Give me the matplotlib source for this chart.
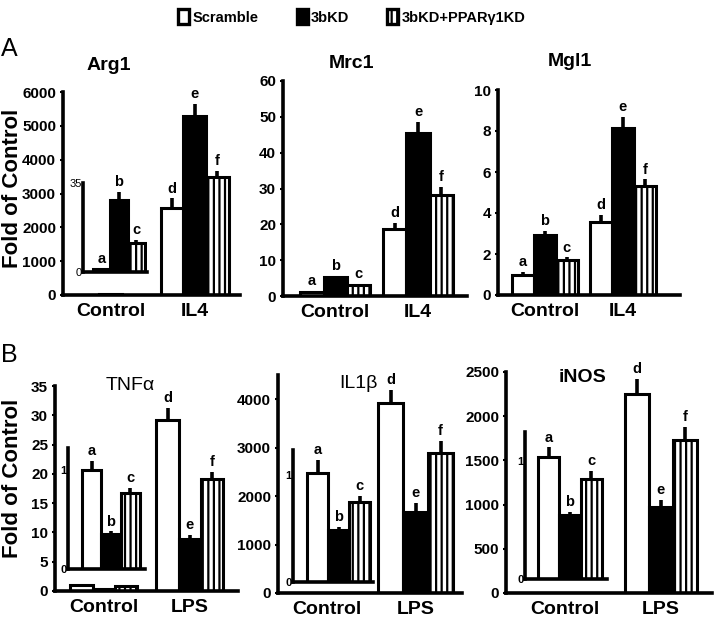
import matplotlib
matplotlib.use("Agg")
import matplotlib.pyplot as plt
from matplotlib.patches import Patch
from matplotlib import font_manager

# fonts: narrow bold like the figure, if present
names = {f.name for f in font_manager.fontManager.ttflist}
NARROW = 'Liberation Sans Narrow' if 'Liberation Sans Narrow' in names else 'Liberation Sans'
plt.rcParams['font.family'] = [NARROW, 'DejaVu Sans']
plt.rcParams['hatch.linewidth'] = 1.6

# data
groups_a = ['Control', 'IL4']
groups_b = ['Control', 'LPS']
series = ['Scramble', '3bKD', '3bKD+PPARγ1KD']
ctrl_letters = ['a', 'b', 'c']
treat_letters = ['d', 'e', 'f']

arg1_ctrl = [1.0, 28.5, 11.5]
arg1_ctrl_err = [0.4, 3.0, 1.2]
arg1_il4 = [2580, 5290, 3490]
arg1_il4_err = [275, 350, 180]

mrc1_ctrl = [1.2, 5.3, 3.0]
mrc1_ctrl_err = [0.3, 0.4, 0.3]
mrc1_il4 = [18.7, 45.6, 28.2]
mrc1_il4_err = [1.8, 2.9, 2.3]

mgl1_ctrl = [1.0, 2.92, 1.72]
mgl1_ctrl_err = [0.12, 0.2, 0.12]
mgl1_il4 = [3.56, 8.16, 5.3]
mgl1_il4_err = [0.34, 0.54, 0.34]

tnfa_ctrl = [1.0, 0.35, 0.77]
tnfa_ctrl_err = [0.09, 0.03, 0.05]
tnfa_lps = [29.2, 8.9, 19.2]
tnfa_lps_err = [2.0, 0.7, 1.2]

il1b_ctrl = [1.02, 0.48, 0.75]
il1b_ctrl_err = [0.12, 0.03, 0.05]
il1b_lps = [3920, 1680, 2890]
il1b_lps_err = [280, 180, 250]

inos_ctrl = [1.04, 0.54, 0.85]
inos_ctrl_err = [0.08, 0.03, 0.07]
inos_lps = [2250, 970, 1727]
inos_lps_err = [170, 87, 150]

W, H = 714, 624
fig = plt.figure(figsize=(W / 100, H / 100), dpi=100)

faces = ['white', 'black', 'white']
hatches = [None, None, '|||']
LW = 2.2


def rect(l, r, top, bottom):
    return [l / W, 1 - bottom / H, (r - l) / W, (bottom - top) / H]


def style(ax):
    for s in ['top', 'right']:
        ax.spines[s].set_visible(False)
    for s in ['left', 'bottom']:
        ax.spines[s].set_linewidth(2.6)
    ax.set_facecolor('none')


def draw_bars(ax, xs, vals, errs, letters, w, fs=10.5):
    for x, v, e, fc, h, lt in zip(xs, vals, errs, faces, hatches, letters):
        ax.bar(x, v, width=w, facecolor=fc, edgecolor='black', linewidth=LW,
               hatch=h, zorder=2)
        ax.errorbar(x, v, yerr=[[0], [e]], fmt='none', ecolor='black',
                    elinewidth=2.6, capsize=0, zorder=1)
        if lt:
            ax.annotate(lt, (x, v + e), xytext=(0, 2), textcoords='offset points',
                        ha='center', va='bottom', fontsize=fs, fontweight='bold')


def main_panel(r, ctrl, ctrl_err, treat, treat_err, groups, ylim, yticks,
               xlim, w, title, title_xy, title_w='bold', ctrl_lab=True):
    ax = fig.add_axes(rect(*r))
    style(ax)
    draw_bars(ax, [-w, 0, w], ctrl, ctrl_err,
              ctrl_letters if ctrl_lab else [None] * 3, w)
    draw_bars(ax, [1 - w, 1, 1 + w], treat, treat_err, treat_letters, w)
    ax.set_xlim(*xlim)
    ax.set_ylim(*ylim)
    ax.set_yticks(yticks)
    ax.set_xticks([0, 1])
    ax.set_xticklabels(groups, fontsize=14, fontweight='bold')
    ax.tick_params(axis='x', length=0, pad=6)
    ax.tick_params(axis='y', length=2, width=1.5, pad=3, labelsize=11)
    for t in ax.get_yticklabels():
        t.set_fontweight('bold')
    fig.text(title_xy[0] / W, 1 - title_xy[1] / H, title, ha='center',
             va='center', fontsize=14, fontweight=title_w)
    return ax


def inset(r, ctrl, ctrl_err, ylim, yticks, xlim, tick_fs=8, tick_w='normal'):
    ax = fig.add_axes(rect(*r))
    style(ax)
    draw_bars(ax, [0, 1, 2], ctrl, ctrl_err, ctrl_letters, 1.0)
    ax.set_xlim(*xlim)
    ax.set_ylim(*ylim)
    ax.set_yticks(yticks)
    ax.set_xticks([])
    ax.tick_params(axis='y', length=0, pad=1, labelsize=tick_fs)
    for t in ax.get_yticklabels():
        t.set_fontweight(tick_w)
    return ax


# panel A
main_panel((63, 240, 92, 295), arg1_ctrl, arg1_ctrl_err, arg1_il4, arg1_il4_err,
           groups_a, (0, 6000), range(0, 6001, 1000), (-0.57, 1.54), 0.27,
           'Arg1', (109, 65), ctrl_lab=False)
inset((83, 147, 183, 272), arg1_ctrl, arg1_ctrl_err, (0, 35), [0, 35],
      (-1.07, 2.61))
main_panel((283, 467, 81, 296), mrc1_ctrl, mrc1_ctrl_err, mrc1_il4, mrc1_il4_err,
           groups_a, (0, 60), range(0, 61, 10), (-0.63, 1.59), 0.28,
           'Mrc1', (352, 63))
main_panel((498, 680, 90, 295), mgl1_ctrl, mgl1_ctrl_err, mgl1_il4, mgl1_il4_err,
           groups_a, (0, 10), range(0, 11, 2), (-0.60, 1.73), 0.28,
           'Mgl1', (570, 62))

# panel B
main_panel((55, 238, 386, 591), tnfa_ctrl, tnfa_ctrl_err, tnfa_lps, tnfa_lps_err,
           groups_b, (0, 35), range(0, 36, 5), (-0.57, 1.56), 0.26,
           'TNFα', (130, 385), title_w='normal', ctrl_lab=False)
inset((68, 145, 448, 569), tnfa_ctrl, tnfa_ctrl_err, (0, 1.22), [0, 1],
      (-1.23, 2.76), tick_w='bold')
main_panel((278, 462, 375, 593), il1b_ctrl, il1b_ctrl_err, il1b_lps, il1b_lps_err,
           groups_b, (0, 4500), range(0, 4001, 1000), (-0.55, 1.52), 0.28,
           'IL1β', (358, 383), title_w='normal', ctrl_lab=False)
inset((293, 373, 450, 582), il1b_ctrl, il1b_ctrl_err, (0, 1.23), [0, 1],
      (-1.17, 2.64), tick_w='bold')
main_panel((506, 712, 372, 593), inos_ctrl, inos_ctrl_err, inos_lps, inos_lps_err,
           groups_b, (0, 2500), range(0, 2501, 500), (-0.61, 1.53), 0.25,
           'iNOS', (583, 377), ctrl_lab=False)
inset((525, 607, 432, 579), inos_ctrl, inos_ctrl_err, (0, 1.25), [0, 1],
      (-1.11, 2.73), tick_w='bold')

# labels
fig.text(9 / W, 1 - 49 / H, 'A', fontsize=18, family='Liberation Sans',
         ha='center', va='center')
fig.text(9 / W, 1 - 355 / H, 'B', fontsize=18, family='Liberation Sans',
         ha='center', va='center')
for yc in (188, 478):
    fig.text(13 / W, 1 - yc / H, 'Fold of Control', rotation=90, ha='center',
             va='center', fontsize=16, fontweight='bold',
             family=['Liberation Sans', 'DejaVu Sans'])

handles = [Patch(facecolor=fc, edgecolor='black', linewidth=2.4, hatch=h)
           for fc, h in zip(faces, hatches)]
fig.legend(handles, series, loc='center', bbox_to_anchor=(352 / W, 1 - 17 / H),
           ncol=3, frameon=False, handlelength=0.75, handleheight=1.2,
           handletextpad=0.25, columnspacing=2.6,
           prop={'weight': 'bold', 'size': 10.5})

fig.savefig('out.png', dpi=100)
